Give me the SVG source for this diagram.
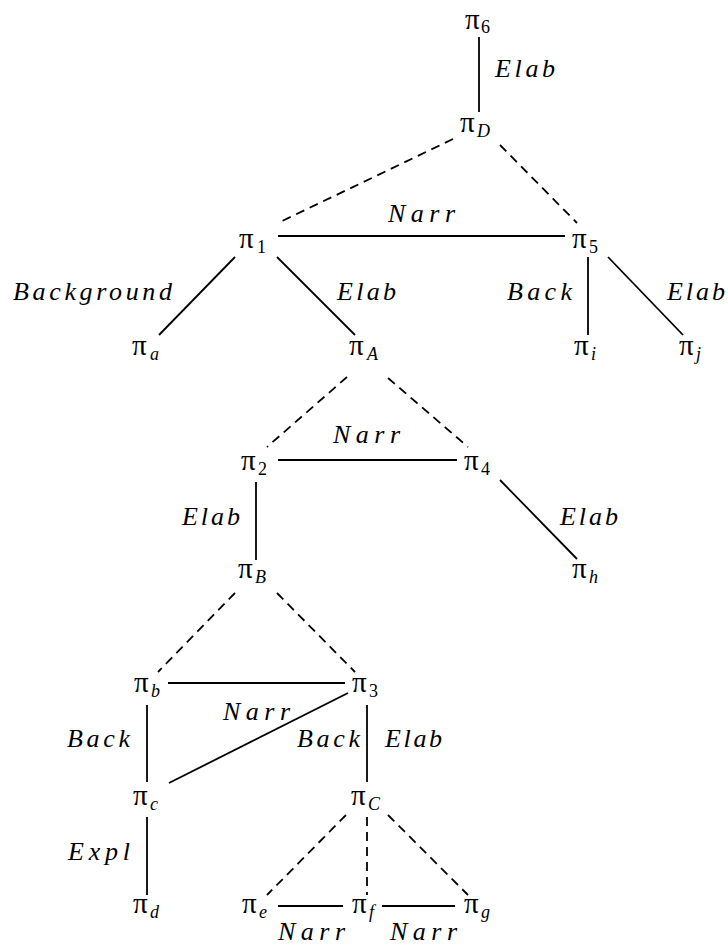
<svg xmlns="http://www.w3.org/2000/svg" width="728" height="949" viewBox="0 0 728 949">
<style>
.pi{font-family:"Liberation Serif","DejaVu Serif",serif;font-size:29px;fill:#000}
.sub{font-size:18px}
.it{font-style:italic}
.lbl{font-family:"Liberation Serif","DejaVu Serif",serif;font-style:italic;font-size:26px;fill:#000}
.e{stroke:#000;stroke-width:1.8;fill:none}
.d{stroke-dasharray:9 6}
</style>
<rect width="728" height="949" fill="#fff"/>
<g id="connectors">
<line class="e" x1="479" y1="37" x2="479" y2="112"/>
<line class="e" x1="278" y1="236" x2="565" y2="236"/>
<line class="e" x1="235" y1="257" x2="159" y2="335"/>
<line class="e" x1="277" y1="257" x2="355" y2="335"/>
<line class="e" x1="588" y1="257" x2="588" y2="335"/>
<line class="e" x1="608" y1="257" x2="683" y2="335"/>
<line class="e" x1="278" y1="460" x2="457" y2="460"/>
<line class="e" x1="256" y1="482" x2="256" y2="560"/>
<line class="e" x1="500" y1="480" x2="577" y2="559"/>
<line class="e" x1="168" y1="683" x2="345" y2="683"/>
<line class="e" x1="147" y1="705" x2="147" y2="782"/>
<line class="e" x1="169" y1="783" x2="348" y2="693"/>
<line class="e" x1="367" y1="705" x2="367" y2="782"/>
<line class="e" x1="147" y1="817" x2="147" y2="895"/>
<line class="e" x1="278" y1="906" x2="343" y2="906"/>
<line class="e" x1="382" y1="906" x2="455" y2="906"/>
<line class="e d" x1="453" y1="139" x2="278" y2="223"/>
<line class="e d" x1="500" y1="145" x2="577" y2="223"/>
<line class="e d" x1="347" y1="377" x2="267" y2="447"/>
<line class="e d" x1="388" y1="378" x2="468" y2="447"/>
<line class="e d" x1="235" y1="593" x2="158" y2="672"/>
<line class="e d" x1="277" y1="593" x2="355" y2="672"/>
<line class="e d" x1="346" y1="815" x2="267" y2="895"/>
<line class="e d" x1="367" y1="817" x2="367" y2="895"/>
<line class="e d" x1="388" y1="815" x2="468" y2="895"/>
</g>
<g id="edge-labels">
<text class="lbl" x="495" y="77" textLength="60" lengthAdjust="spacing">Elab</text>
<text class="lbl" x="388" y="222" textLength="67" lengthAdjust="spacing">Narr</text>
<text class="lbl" x="13" y="300" textLength="159" lengthAdjust="spacing">Background</text>
<text class="lbl" x="337" y="300" textLength="59" lengthAdjust="spacing">Elab</text>
<text class="lbl" x="507" y="300" textLength="65" lengthAdjust="spacing">Back</text>
<text class="lbl" x="667" y="300" textLength="58" lengthAdjust="spacing">Elab</text>
<text class="lbl" x="333" y="443" textLength="67" lengthAdjust="spacing">Narr</text>
<text class="lbl" x="182" y="525" textLength="58" lengthAdjust="spacing">Elab</text>
<text class="lbl" x="560" y="525" textLength="58" lengthAdjust="spacing">Elab</text>
<text class="lbl" x="67" y="747" textLength="63" lengthAdjust="spacing">Back</text>
<text class="lbl" x="223" y="720" textLength="67" lengthAdjust="spacing">Narr</text>
<text class="lbl" x="297" y="747" textLength="63" lengthAdjust="spacing">Back</text>
<text class="lbl" x="385" y="747" textLength="57" lengthAdjust="spacing">Elab</text>
<text class="lbl" x="68" y="860" textLength="62" lengthAdjust="spacing">Expl</text>
<text class="lbl" x="278" y="940" textLength="67" lengthAdjust="spacing">Narr</text>
<text class="lbl" x="390" y="940" textLength="67" lengthAdjust="spacing">Narr</text>
</g>
<g id="nodes">
<g id="pi6"><text class="pi" x="465" y="29" font-size="27">π<tspan class="sub" x="481" y="33">6</tspan></text></g>
<g id="piD"><text class="pi" x="460" y="132">π<tspan class="sub it" x="477" y="137">D</tspan></text></g>
<g id="pi1"><text class="pi" x="239" y="248">π<tspan class="sub" x="257" y="253">1</tspan></text></g>
<g id="pi5"><text class="pi" x="572" y="248">π<tspan class="sub" x="589" y="253">5</tspan></text></g>
<g id="pia"><text class="pi" x="132" y="355">π<tspan class="sub it" x="150" y="360">a</tspan></text></g>
<g id="piA"><text class="pi" x="349" y="355">π<tspan class="sub it" x="367" y="360">A</tspan></text></g>
<g id="pii"><text class="pi" x="574" y="355">π<tspan class="sub it" x="591" y="360">i</tspan></text></g>
<g id="pij"><text class="pi" x="679" y="355">π<tspan class="sub it" x="696" y="360">j</tspan></text></g>
<g id="pi2"><text class="pi" x="241" y="470">π<tspan class="sub" x="258" y="475">2</tspan></text></g>
<g id="pi4"><text class="pi" x="464" y="470">π<tspan class="sub" x="481" y="475">4</tspan></text></g>
<g id="piB"><text class="pi" x="238" y="578">π<tspan class="sub it" x="255" y="583">B</tspan></text></g>
<g id="pih"><text class="pi" x="572" y="578">π<tspan class="sub it" x="589" y="583">h</tspan></text></g>
<g id="pib"><text class="pi" x="134" y="692">π<tspan class="sub it" x="151" y="697">b</tspan></text></g>
<g id="pi3"><text class="pi" x="352" y="692">π<tspan class="sub" x="369" y="697">3</tspan></text></g>
<g id="pic"><text class="pi" x="133" y="805">π<tspan class="sub it" x="150" y="810">c</tspan></text></g>
<g id="piC"><text class="pi" x="351" y="805">π<tspan class="sub it" x="368" y="810">C</tspan></text></g>
<g id="pid"><text class="pi" x="133" y="913">π<tspan class="sub it" x="150" y="918">d</tspan></text></g>
<g id="pie"><text class="pi" x="242" y="913">π<tspan class="sub it" x="259" y="918">e</tspan></text></g>
<g id="pif"><text class="pi" x="352" y="913">π<tspan class="sub it" x="369" y="918">f</tspan></text></g>
<g id="pig"><text class="pi" x="464" y="913">π<tspan class="sub it" x="481" y="918">g</tspan></text></g>
</g>
</svg>
